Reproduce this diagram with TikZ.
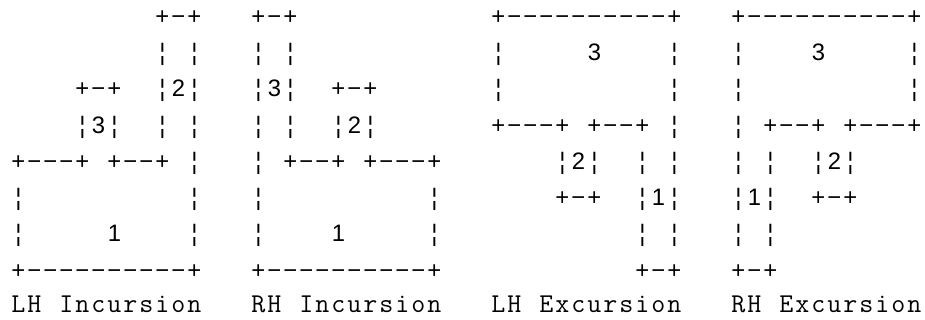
\documentclass[tikz,border=0pt]{standalone}
\usepackage{fontspec}
\newfontfamily\boxfont{Liberation Sans}

% one fixed-width cell per character, '_' is an empty cell
\newcommand\cellw{8pt}
\def\cells#1{\expandafter\cellsi#1\relax}
\def\cellsi#1{\ifx#1\relax\else
  \makebox[\cellw][c]{\ifx#1_\else\ifx#1-−\else#1\fi\fi}%
  \expandafter\cellsi\fi}

\begin{document}
\begin{tikzpicture}[
  x=0.5pt, y=0.5pt,
  art/.style={anchor=base west, inner sep=0pt,
    font=\boxfont\fontsize{11.9}{14}\selectfont},
  caption/.style={anchor=base west, inner sep=0pt,
    font=\ttfamily\fontsize{13.6}{16}\selectfont},
]
\useasboundingbox (0, 0) rectangle (925, 320);

% LH incursion
\foreach \r/\s in {1/_________+-+, 2/_________¦_¦, 3/____+-+__¦2¦,
    4/____¦3¦__¦_¦, 5/+---+_+--+_¦, 6/¦__________¦,
    7/¦_____1____¦, 8/+----------+} {
  \node[art] (lhi\r) at (10, 331.75 - \r*36.25) {\cells{\s}};
}

% RH incursion
\foreach \r/\s in {1/+-+, 2/¦_¦, 3/¦3¦__+-+, 4/¦_¦__¦2¦,
    5/¦_+--+_+---+, 6/¦__________¦, 7/¦____1_____¦, 8/+----------+} {
  \node[art] (rhi\r) at (250, 331.75 - \r*36.25) {\cells{\s}};
}

% LH excursion
\foreach \r/\s in {1/+----------+, 2/¦_____3____¦, 3/¦__________¦,
    4/+---+_+--+_¦, 5/____¦2¦__¦_¦, 6/____+-+__¦1¦,
    7/_________¦_¦, 8/_________+-+} {
  \node[art] (lhe\r) at (490, 331.75 - \r*36.25) {\cells{\s}};
}

% RH excursion
\foreach \r/\s in {1/+----------+, 2/¦____3_____¦, 3/¦__________¦,
    4/¦_+--+_+---+, 5/¦_¦__¦2¦, 6/¦1¦__+-+, 7/¦_¦, 8/+-+} {
  \node[art] (rhe\r) at (730, 331.75 - \r*36.25) {\cells{\s}};
}

\node[caption] (lhi-name) at (10, 7) {\cells{LH_Incursion}};
\node[caption] (rhi-name) at (250, 7) {\cells{RH_Incursion}};
\node[caption] (lhe-name) at (490, 7) {\cells{LH_Excursion}};
\node[caption] (rhe-name) at (730, 7) {\cells{RH_Excursion}};
\end{tikzpicture}
\end{document}
